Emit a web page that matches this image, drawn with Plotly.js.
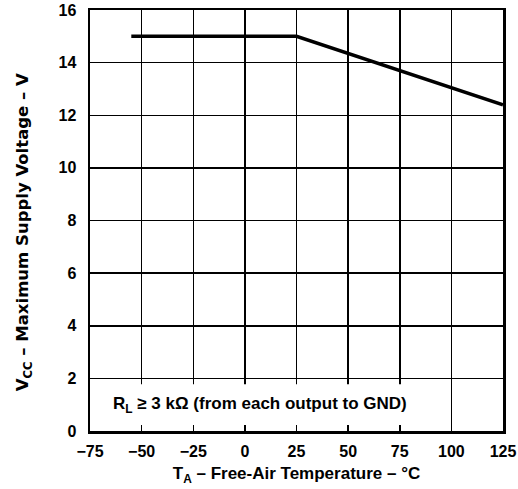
<!DOCTYPE html>
<html>
<head>
<meta charset="utf-8">
<script src="https://cdn.plot.ly/plotly-3.0.1.min.js"></script>
<style>html,body{margin:0;padding:0;background:#fff;}#chart{width:518px;height:489px;}</style>
</head>
<body>
<div id="chart"></div>
<script>
const tempC = [-55, 25, 125];
const vccMax = [15, 15, 12.4];
const xTicks = [-75, -50, -25, 0, 25, 50, 75, 100, 125];
const xTickLabels = ['\u221275', '\u221250', '\u221225', '0', '25', '50', '75', '100', '125'];
const yTicks = [0, 2, 4, 6, 8, 10, 12, 14, 16];
const noteText = 'R<sub>L</sub> \u2265 3 k\u03A9 (from each output to GND)';
const yTitleText = 'V<sub>CC</sub> \u2013 Maximum Supply Voltage \u2013 V';

const fam = 'Liberation Sans, Arial, sans-serif';
const tickFont = {family: fam, size: 16, color: '#000', weight: 'bold'};
const xTitleFont = {family: fam, size: 17, color: '#000', weight: 'bold'};
const yTitleFont = {family: 'DejaVu Sans, sans-serif', size: 16.5, color: '#000', weight: 'bold'};
const noteFont = {family: fam, size: 17, color: '#000', weight: 'bold'};

const data = [{
  x: tempC, y: vccMax, mode: 'lines', type: 'scatter',
  line: {color: '#000', width: 3.5}, hoverinfo: 'skip'
}];

const layout = {
  width: 518, height: 489,
  margin: {l: 90, r: 15, t: 10, b: 58},
  paper_bgcolor: '#fff', plot_bgcolor: '#fff',
  showlegend: false,
  font: tickFont,
  xaxis: {
    range: [-75, 125], tickvals: xTicks, ticktext: xTickLabels,
    showgrid: true, gridcolor: '#000', gridwidth: 1.5,
    showline: true, linecolor: '#000', linewidth: 2.5, mirror: true,
    ticks: '', zeroline: false, tickfont: tickFont, ticklabelstandoff: 4,
    title: {text: 'T<sub>A</sub> \u2013 Free-Air Temperature \u2013 \u00B0C', font: xTitleFont, standoff: 9}
  },
  yaxis: {
    range: [0, 16], tickvals: yTicks,
    showgrid: true, gridcolor: '#000', gridwidth: 1.5,
    showline: true, linecolor: '#000', linewidth: 2.5, mirror: true,
    ticks: '', zeroline: false, tickfont: tickFont, ticklabelstandoff: 8
  },
  shapes: [{
    type: 'rect', xref: 'x', yref: 'y', x0: -74.2, x1: 98.5, y0: 0.23, y1: 1.78,
    fillcolor: '#fff', line: {width: 0}, layer: 'above'
  }],
  annotations: [{
    xref: 'x', yref: 'y', x: 7.5, y: 1.0, text: noteText, showarrow: false,
    font: noteFont, xanchor: 'center', yanchor: 'middle'
  }, {
    xref: 'paper', yref: 'paper', x: -0.159, y: 0.473, text: yTitleText, showarrow: false,
    font: yTitleFont, textangle: -90, xanchor: 'center', yanchor: 'middle'
  }]
};

Plotly.newPlot('chart', data, layout, {displayModeBar: false, staticPlot: true});
</script>
</body>
</html>
